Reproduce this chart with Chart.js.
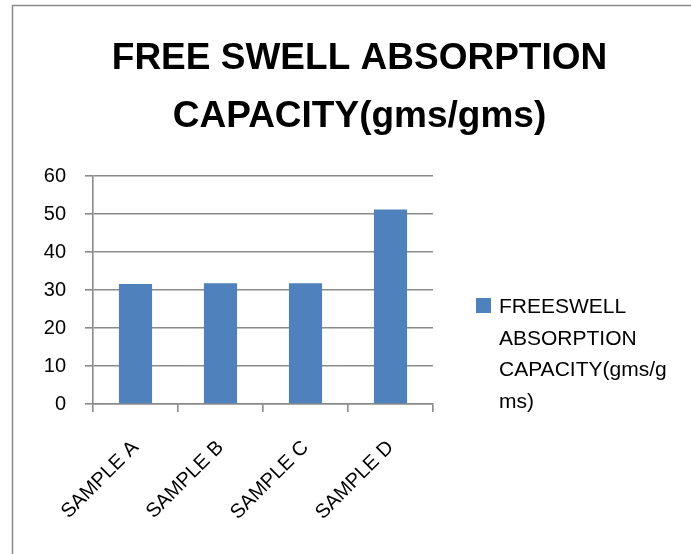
<!DOCTYPE html>
<html>
<head>
<meta charset="utf-8">
<script src="https://cdn.jsdelivr.net/npm/chart.js@4/dist/chart.umd.min.js"></script>
<style>
html,body{margin:0;padding:0;background:#fff;}
#wrap{width:691px;height:554px;}
</style>
</head>
<body>
<div id="wrap"><canvas id="c" width="691" height="554"></canvas></div>
<script>
const categories = ['SAMPLE A', 'SAMPLE B', 'SAMPLE C', 'SAMPLE D'];
const seriesName = 'FREESWELL ABSORPTION CAPACITY(gms/gms)';
const seriesValues = [31.6, 31.8, 31.8, 51.2];
const titleLines = ['FREE SWELL ABSORPTION', 'CAPACITY(gms/gms)'];
const legendLines = ['FREESWELL', 'ABSORPTION', 'CAPACITY(gms/g', 'ms)'];
const yTicks = [0, 10, 20, 30, 40, 50, 60];

const BAR_COLOR = '#4F81BD';
const GRID = '#8a8a8a';

const framePlugin = {
  id: 'frame',
  beforeDraw(chart) {
    const ctx = chart.ctx;
    ctx.save();
    ctx.fillStyle = '#fff';
    ctx.fillRect(0, 0, chart.width, chart.height);
    ctx.strokeStyle = '#8a8a8a';
    ctx.lineWidth = 1.5;
    ctx.strokeRect(12.5, 5.5, 720, 600);
    ctx.restore();
  }
};

const legendPlugin = {
  id: 'customLegend',
  afterDraw(chart) {
    const ctx = chart.ctx;
    const ds = chart.data.datasets[0];
    ctx.save();
    ctx.fillStyle = ds.backgroundColor;
    ctx.fillRect(476, 298, 15, 15);
    ctx.fillStyle = '#000';
    ctx.font = '21px "Liberation Sans", Arial, sans-serif';
    ctx.textBaseline = 'alphabetic';
    ctx.textAlign = 'left';
    legendLines.forEach((t, i) => ctx.fillText(t, 499, 313 + i * 31.7));
    ctx.restore();
  }
};

new Chart(document.getElementById('c'), {
  type: 'bar',
  data: {
    labels: categories,
    datasets: [{
      label: seriesName,
      data: seriesValues,
      backgroundColor: BAR_COLOR,
      borderWidth: 0,
      categoryPercentage: 1,
      barPercentage: 0.39,
      yAxisID: 'y'
    }]
  },
  options: {
    responsive: false,
    animation: false,
    devicePixelRatio: 1,
    layout: { padding: { left: 28, right: 0, top: 0, bottom: 0 } },
    plugins: {
      legend: { display: false },
      tooltip: { enabled: false },
      title: {
        display: true,
        text: titleLines,
        color: '#000',
        font: { family: '"Liberation Sans", Arial, sans-serif', size: 37, weight: 'bold', lineHeight: 1.57 },
        padding: { top: 30, bottom: 30 }
      }
    },
    scales: {
      x: {
        offset: true,
        grid: { display: true, drawOnChartArea: false, drawTicks: true, tickLength: 8, color: GRID, lineWidth: 1.6, offset: true },
        border: { display: true, color: GRID, width: 1.6 },
        ticks: {
          color: '#000',
          font: { family: '"Liberation Sans", Arial, sans-serif', size: 20 },
          minRotation: 45, maxRotation: 45, padding: 24, autoSkip: false
        },
        afterFit(scale) { scale.height = 150; }
      },
      y: {
        min: 0, max: 60,
        afterBuildTicks(scale) { scale.ticks = yTicks.map(v => ({ value: v })); },
        grid: { color: GRID, lineWidth: 1.6, tickLength: 8, drawTicks: true },
        border: { display: true, color: GRID, width: 1.6 },
        ticks: {
          color: '#000',
          font: { family: '"Liberation Sans", Arial, sans-serif', size: 20 },
          padding: 19
        },
        afterFit(scale) { scale.width = 65; }
      },
      y2: {
        position: 'right',
        display: true,
        grid: { display: false, drawTicks: false },
        border: { display: false },
        ticks: { display: false },
        afterFit(scale) { scale.width = 258; }
      }
    }
  },
  plugins: [framePlugin, legendPlugin]
});
</script>
</body>
</html>
